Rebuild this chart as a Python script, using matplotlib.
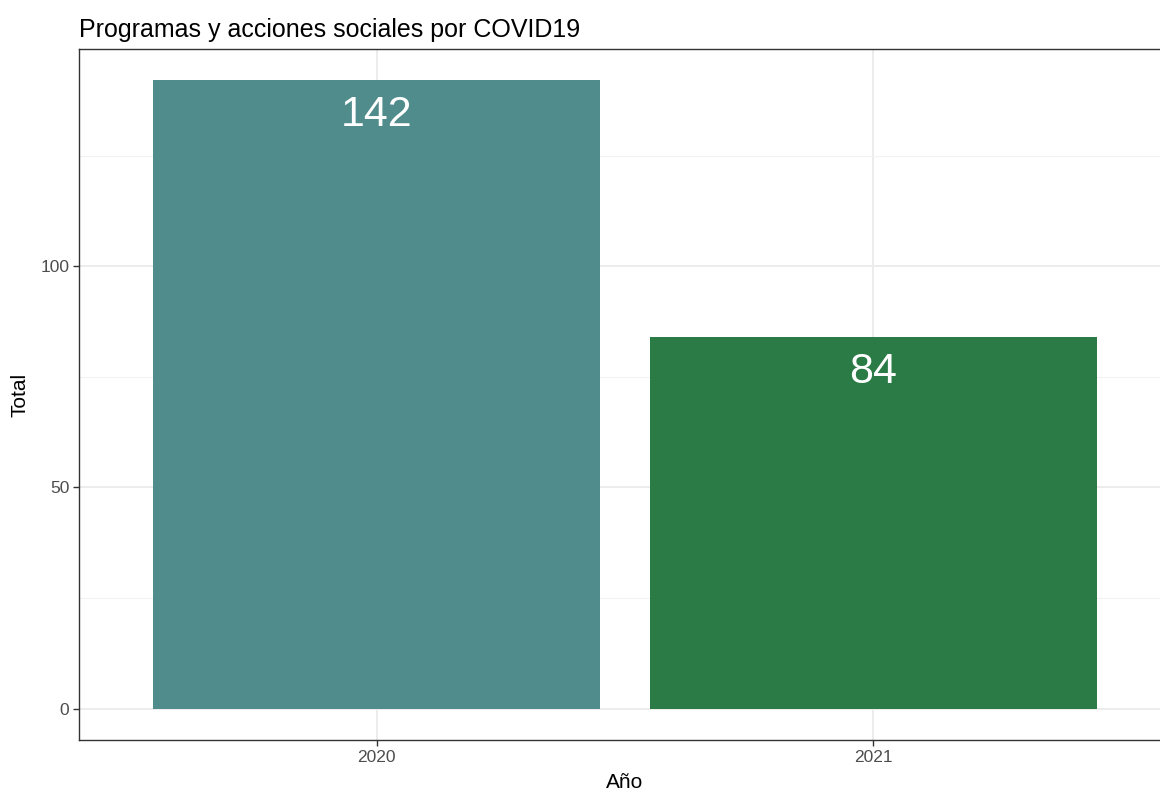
import matplotlib

matplotlib.use("Agg")
import matplotlib.pyplot as plt
from matplotlib.ticker import MultipleLocator

plt.rcParams["font.family"] = ["Liberation Sans", "DejaVu Sans"]

# data
years = ["2020", "2021"]
totals = [142, 84]
bar_colors = ["#518C8C", "#2A7B46"]

title = "Programas y acciones sociales por COVID19"
x_label = "Año"
y_label = "Total"

W, H, DPI = 1160, 791, 100
fig = plt.figure(figsize=(W / DPI, H / DPI), dpi=DPI)
# panel runs slightly past the right edge, as in the reference crop
ax = fig.add_axes([79 / W, 51 / H, (1171 - 79) / W, (740 - 49) / H])

positions = list(range(1, len(years) + 1))
ax.bar(positions, totals, width=0.9, color=bar_colors, zorder=2)

for pos, value in zip(positions, totals):
    ax.annotate(
        str(value),
        xy=(pos, value),
        xytext=(0, -33),
        textcoords="offset points",
        ha="center",
        va="baseline",
        color="white",
        fontsize=31,
        zorder=3,
    )

top = max(totals)
ax.set_xlim(0.4, len(years) + 0.6)
ax.set_ylim(-0.05 * top, 1.05 * top)

ax.set_xticks(positions)
ax.set_xticklabels(years)
ax.yaxis.set_major_locator(MultipleLocator(50))
ax.yaxis.set_minor_locator(MultipleLocator(25))

ax.grid(True, which="major", color="#EBEBEB", linewidth=1.3, zorder=0)
ax.grid(True, which="minor", axis="y", color="#F2F2F2", linewidth=0.8, zorder=0)
ax.set_axisbelow(True)

for spine in ax.spines.values():
    spine.set_color("#333333")
    spine.set_linewidth(1.0)

ax.tick_params(axis="both", which="major", length=4, width=1.0, color="#333333",
               labelcolor="#4D4D4D", labelsize=12.5, pad=3)
ax.tick_params(axis="y", which="minor", length=0)

ax.set_xlabel(x_label, fontsize=15, color="black", labelpad=6)
ax.set_ylabel(y_label, fontsize=15, color="black", labelpad=8)

fig.text(79 / W, 1 - 37 / H, title, ha="left", va="baseline", fontsize=18, color="black")

fig.savefig("out.png", dpi=DPI)
